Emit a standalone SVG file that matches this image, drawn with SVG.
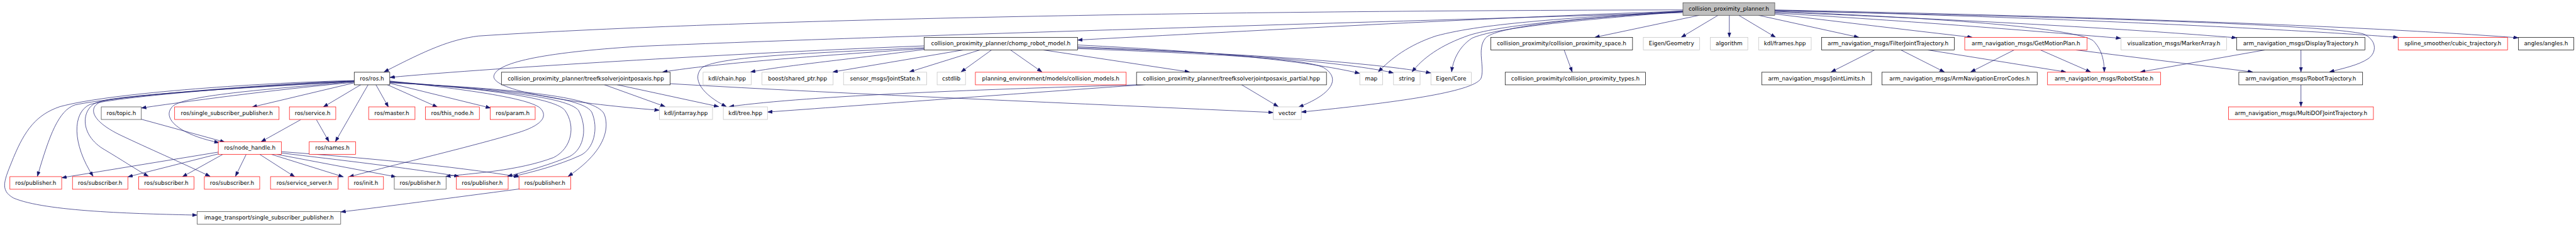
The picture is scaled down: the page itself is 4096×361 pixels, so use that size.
<svg xmlns="http://www.w3.org/2000/svg" width="4096" height="361" viewBox="0 0 4096 361">
<style>
.n rect{fill:#fff;stroke-width:1}
.b rect{stroke:#000}
.d rect{stroke:#404040}
.r rect{stroke:#ff0000}
.g rect{stroke:#bfbfbf}
.root rect{fill:#bfbfbf;stroke:#404040}
text{font-family:"DejaVu Sans","Liberation Sans",sans-serif;font-size:12.4px;fill:#000;text-anchor:middle}
#edges path{fill:none;stroke:#191970;stroke-width:1;marker-end:url(#ah)}
</style>
<defs>
<marker id="ah" markerUnits="userSpaceOnUse" markerWidth="11" markerHeight="8" refX="11" refY="4" orient="auto" viewBox="0 0 11 8">
<path d="M0,0 L11,4 L0,8 z" fill="#191970" stroke="#191970" stroke-width="0.5"/>
</marker>
</defs>
<rect width="4096" height="361" fill="#fff"/>
<g transform="scale(0.7157)">
<g id="edges">
<path d="M3739,22 C2600,24 1600,45 1063,80 C1000,88 950,110 853,160"/>
<path d="M3739,25 C3400,35 2900,62 2394,89"/>
<path d="M3739,28 C3200,45 2000,78 1420,103 C1200,117 1100,140 1097,170 C1097,200 1250,228 1465,245"/>
<path d="M3739,26 C3500,40 3320,60 3300,85 C3280,110 3300,150 3290,175 C3270,205 3100,228 2891,249"/>
<path d="M3739,24 C3500,40 3300,50 3190,80 C3130,100 3090,130 3062,160"/>
<path d="M3739,25 C3500,42 3340,55 3265,78 C3200,100 3160,130 3137,160"/>
<path d="M3739,26 C3500,45 3320,62 3270,85 C3240,105 3228,135 3225,160"/>
<path d="M3775,34 L3543,83"/>
<path d="M3817,34 L3735,83"/>
<path d="M3842,34 L3842,83"/>
<path d="M3863,34 L3945,83"/>
<path d="M3907,34 L4130,83"/>
<path d="M3943,31 C4100,50 4250,68 4382,83"/>
<path d="M3943,29 C4300,50 4550,72 4712,85"/>
<path d="M3943,27 C4400,45 4750,66 4969,84"/>
<path d="M3943,25 C4300,40 4600,60 4650,90 C4670,110 4675,135 4675,160"/>
<path d="M3943,23 C4600,40 5100,66 5328,83"/>
<path d="M3943,22 C4800,40 5300,62 5595,84"/>
<path d="M3943,24 C4700,40 5150,55 5250,75 C5280,88 5282,115 5262,130 C5240,145 5205,152 5175,160"/>
<path d="M2053,102 C1700,115 1100,150 866,172"/>
<path d="M2053,106 C1800,118 1600,125 1560,150 C1535,175 1560,210 1614,237"/>
<path d="M2053,108 C1800,125 1600,140 1472,160"/>
<path d="M2053,110 C1900,130 1750,145 1667,160"/>
<path d="M2140,111 L1850,160"/>
<path d="M2177,111 L2020,160"/>
<path d="M2203,111 L2135,160"/>
<path d="M2245,111 L2315,160"/>
<path d="M2318,111 L2643,160"/>
<path d="M2394,100 C2700,115 2900,135 3021,163"/>
<path d="M2394,104 C2750,118 3000,140 3096,162"/>
<path d="M2394,106 C2800,120 3050,140 3179,162"/>
<path d="M2394,108 C2700,120 2900,130 2940,150 C2975,170 2970,205 2885,238"/>
<path d="M1342,188 L1478,237"/>
<path d="M1370,188 L1597,237"/>
<path d="M1489,186 C1900,210 2400,230 2829,250"/>
<path d="M2540,188 C2200,198 1800,212 1620,237"/>
<path d="M2545,188 C2300,205 1900,235 1705,249"/>
<path d="M2758,188 L2840,237"/>
<path d="M787,183 C650,195 450,220 314,240"/>
<path d="M787,184 L560,238"/>
<path d="M802,188 L718,238"/>
<path d="M818,188 L745,315"/>
<path d="M835,188 L863,238"/>
<path d="M860,188 L972,238"/>
<path d="M866,185 L1090,240"/>
<path d="M787,181 C650,195 420,208 385,235 C355,262 400,300 487,317"/>
<path d="M314,265 L500,316"/>
<path d="M787,179 C600,183 250,205 133,237 C80,255 55,290 30,350 C10,400 -2,422 30,440 C100,470 300,475 438,478"/>
<path d="M787,180 C600,185 250,215 167,233 C130,245 110,300 83,392"/>
<path d="M787,180 C600,187 260,215 200,232 C160,250 160,320 207,392"/>
<path d="M787,181 C600,190 280,210 217,227 C180,240 175,300 233,333 C270,355 300,375 330,392"/>
<path d="M787,181 C600,192 300,208 233,223 C195,233 195,265 267,300 C330,330 400,360 467,392"/>
<path d="M866,180 C1000,195 1170,215 1200,240 C1220,260 1200,280 1150,295 C1050,325 900,360 775,393"/>
<path d="M866,181 C1050,195 1230,215 1255,245 C1280,280 1270,330 1230,350 C1150,380 1050,385 990,392"/>
<path d="M866,182 C1100,200 1260,215 1285,245 C1305,280 1300,330 1265,348 C1210,370 1160,383 1127,392"/>
<path d="M866,183 C1150,200 1300,218 1315,250 C1330,285 1320,330 1290,345 C1240,368 1180,383 1140,392"/>
<path d="M866,184 C1200,200 1330,220 1343,255 C1355,290 1340,340 1262,392"/>
<path d="M485,338 L137,395"/>
<path d="M485,342 L284,393"/>
<path d="M495,343 L405,393"/>
<path d="M547,343 L523,392"/>
<path d="M577,343 L655,393"/>
<path d="M603,343 L763,393"/>
<path d="M615,343 L880,393"/>
<path d="M625,340 C750,355 900,372 1020,392"/>
<path d="M625,337 C800,350 1000,368 1153,393"/>
<path d="M668,266 L580,315"/>
<path d="M703,266 L731,315"/>
<path d="M1153,420 C1000,440 850,460 757,471"/>
<path d="M3475,111 L3493,160"/>
<path d="M4165,111 L4068,160"/>
<path d="M4223,111 L4320,160"/>
<path d="M4283,111 L4590,160"/>
<path d="M4475,111 L4378,160"/>
<path d="M4533,111 L4645,160"/>
<path d="M4612,111 L5005,160"/>
<path d="M5032,111 L4755,160"/>
<path d="M5112,111 L5112,160"/>
<path d="M5112,188 L5112,237"/>
</g>
<g id="root" class="n root"><rect x="3739" y="6" width="204" height="28"/><text x="3841" y="23.8">collision_proximity_planner.h</text></g>
<g id="n_chomp" class="n b"><rect x="2053" y="83" width="341" height="28"/><text x="2223.5" y="100.8">collision_proximity_planner/chomp_robot_model.h</text></g>
<g id="n_cps" class="n b"><rect x="3312" y="83" width="315" height="28"/><text x="3469.5" y="100.8">collision_proximity/collision_proximity_space.h</text></g>
<g id="n_eigeo" class="n g"><rect x="3651" y="83" width="125" height="28"/><text x="3713.5" y="100.8">Eigen/Geometry</text></g>
<g id="n_algo" class="n g"><rect x="3800" y="83" width="83" height="28"/><text x="3841.5" y="100.8">algorithm</text></g>
<g id="n_frames" class="n g"><rect x="3907" y="83" width="117" height="28"/><text x="3965.5" y="100.8">kdl/frames.hpp</text></g>
<g id="n_filter" class="n b"><rect x="4047" y="83" width="295" height="28"/><text x="4194.5" y="100.8">arm_navigation_msgs/FilterJointTrajectory.h</text></g>
<g id="n_gmp" class="n r"><rect x="4365" y="83" width="272" height="28"/><text x="4501" y="100.8">arm_navigation_msgs/GetMotionPlan.h</text></g>
<g id="n_marker" class="n g"><rect x="4712" y="83" width="235" height="28"/><text x="4829.5" y="100.8">visualization_msgs/MarkerArray.h</text></g>
<g id="n_disp" class="n b"><rect x="4969" y="83" width="285" height="28"/><text x="5111.5" y="100.8">arm_navigation_msgs/DisplayTrajectory.h</text></g>
<g id="n_spline" class="n r"><rect x="5328" y="83" width="243" height="28"/><text x="5449.5" y="100.8">spline_smoother/cubic_trajectory.h</text></g>
<g id="n_angles" class="n b"><rect x="5595" y="83" width="123" height="28"/><text x="5656.5" y="100.8">angles/angles.h</text></g>
<g id="n_ros" class="n b"><rect x="787" y="160.5" width="79" height="28"/><text x="826.5" y="178.3">ros/ros.h</text></g>
<g id="n_tfk" class="n b"><rect x="1114" y="160.5" width="375" height="28"/><text x="1301.5" y="178.3">collision_proximity_planner/treefksolverjointposaxis.hpp</text></g>
<g id="n_chain" class="n g"><rect x="1562" y="160.5" width="107" height="28"/><text x="1615.5" y="178.3">kdl/chain.hpp</text></g>
<g id="n_shptr" class="n g"><rect x="1693" y="160.5" width="158" height="28"/><text x="1772" y="178.3">boost/shared_ptr.hpp</text></g>
<g id="n_js" class="n g"><rect x="1874" y="160.5" width="185" height="28"/><text x="1966.5" y="178.3">sensor_msgs/JointState.h</text></g>
<g id="n_cstd" class="n g"><rect x="2082" y="160.5" width="63" height="28"/><text x="2113.5" y="178.3">cstdlib</text></g>
<g id="n_cm" class="n r"><rect x="2167" y="160.5" width="335" height="28"/><text x="2334.5" y="178.3">planning_environment/models/collision_models.h</text></g>
<g id="n_tfkp" class="n b"><rect x="2525" y="160.5" width="422" height="28"/><text x="2736" y="178.3">collision_proximity_planner/treefksolverjointposaxis_partial.hpp</text></g>
<g id="n_map" class="n g"><rect x="3021" y="160.5" width="51" height="28"/><text x="3046.5" y="178.3">map</text></g>
<g id="n_string" class="n g"><rect x="3096" y="160.5" width="59" height="28"/><text x="3125.5" y="178.3">string</text></g>
<g id="n_eicore" class="n g"><rect x="3179" y="160.5" width="90" height="28"/><text x="3224" y="178.3">Eigen/Core</text></g>
<g id="n_cpt" class="n b"><rect x="3344" y="160.5" width="312" height="28"/><text x="3500" y="178.3">collision_proximity/collision_proximity_types.h</text></g>
<g id="n_jl" class="n b"><rect x="3914" y="160.5" width="244" height="28"/><text x="4036" y="178.3">arm_navigation_msgs/JointLimits.h</text></g>
<g id="n_anec" class="n b"><rect x="4181" y="160.5" width="345" height="28"/><text x="4353.5" y="178.3">arm_navigation_msgs/ArmNavigationErrorCodes.h</text></g>
<g id="n_rs" class="n r"><rect x="4549" y="160.5" width="251" height="28"/><text x="4674.5" y="178.3">arm_navigation_msgs/RobotState.h</text></g>
<g id="n_rt" class="n b"><rect x="4974" y="160.5" width="275" height="28"/><text x="5111.5" y="178.3">arm_navigation_msgs/RobotTrajectory.h</text></g>
<g id="n_topic" class="n d"><rect x="225" y="237.5" width="89" height="28"/><text x="269.5" y="255.3">ros/topic.h</text></g>
<g id="n_ssp" class="n r"><rect x="388" y="237.5" width="232" height="28"/><text x="504" y="255.3">ros/single_subscriber_publisher.h</text></g>
<g id="n_service" class="n r"><rect x="643" y="237.5" width="103" height="28"/><text x="694.5" y="255.3">ros/service.h</text></g>
<g id="n_master" class="n r"><rect x="819" y="237.5" width="103" height="28"/><text x="870.5" y="255.3">ros/master.h</text></g>
<g id="n_thisnode" class="n r"><rect x="945" y="237.5" width="120" height="28"/><text x="1005" y="255.3">ros/this_node.h</text></g>
<g id="n_param" class="n r"><rect x="1089" y="237.5" width="100" height="28"/><text x="1139" y="255.3">ros/param.h</text></g>
<g id="n_jnt" class="n g"><rect x="1465" y="237.5" width="118" height="28"/><text x="1524" y="255.3">kdl/jntarray.hpp</text></g>
<g id="n_tree" class="n g"><rect x="1607" y="237.5" width="98" height="28"/><text x="1656" y="255.3">kdl/tree.hpp</text></g>
<g id="n_vector" class="n g"><rect x="2829" y="237.5" width="62" height="28"/><text x="2860" y="255.3">vector</text></g>
<g id="n_mdof" class="n r"><rect x="4951" y="237.5" width="322" height="28"/><text x="5112" y="255.3">arm_navigation_msgs/MultiDOFJointTrajectory.h</text></g>
<g id="n_nh" class="n r"><rect x="485" y="315" width="140" height="28"/><text x="555" y="332.8">ros/node_handle.h</text></g>
<g id="n_names" class="n r"><rect x="687" y="315" width="103" height="28"/><text x="738.5" y="332.8">ros/names.h</text></g>
<g id="n_pub1" class="n r"><rect x="22" y="392.5" width="115" height="28"/><text x="79.5" y="410.3">ros/publisher.h</text></g>
<g id="n_sub1" class="n r"><rect x="161" y="392.5" width="123" height="28"/><text x="222.5" y="410.3">ros/subscriber.h</text></g>
<g id="n_sub2" class="n r"><rect x="308" y="392.5" width="123" height="28"/><text x="369.5" y="410.3">ros/subscriber.h</text></g>
<g id="n_sub3" class="n r"><rect x="454" y="392.5" width="123" height="28"/><text x="515.5" y="410.3">ros/subscriber.h</text></g>
<g id="n_ss" class="n r"><rect x="601" y="392.5" width="150" height="28"/><text x="676" y="410.3">ros/service_server.h</text></g>
<g id="n_init" class="n r"><rect x="774" y="392.5" width="78" height="28"/><text x="813" y="410.3">ros/init.h</text></g>
<g id="n_pub2" class="n d"><rect x="876" y="392.5" width="115" height="28"/><text x="933.5" y="410.3">ros/publisher.h</text></g>
<g id="n_pub3" class="n r"><rect x="1014" y="392.5" width="115" height="28"/><text x="1071.5" y="410.3">ros/publisher.h</text></g>
<g id="n_pub4" class="n r"><rect x="1153" y="392.5" width="115" height="28"/><text x="1210.5" y="410.3">ros/publisher.h</text></g>
<g id="n_itssp" class="n d"><rect x="438" y="470" width="319" height="28"/><text x="597.5" y="487.8">image_transport/single_subscriber_publisher.h</text></g>
</g>
</svg>
